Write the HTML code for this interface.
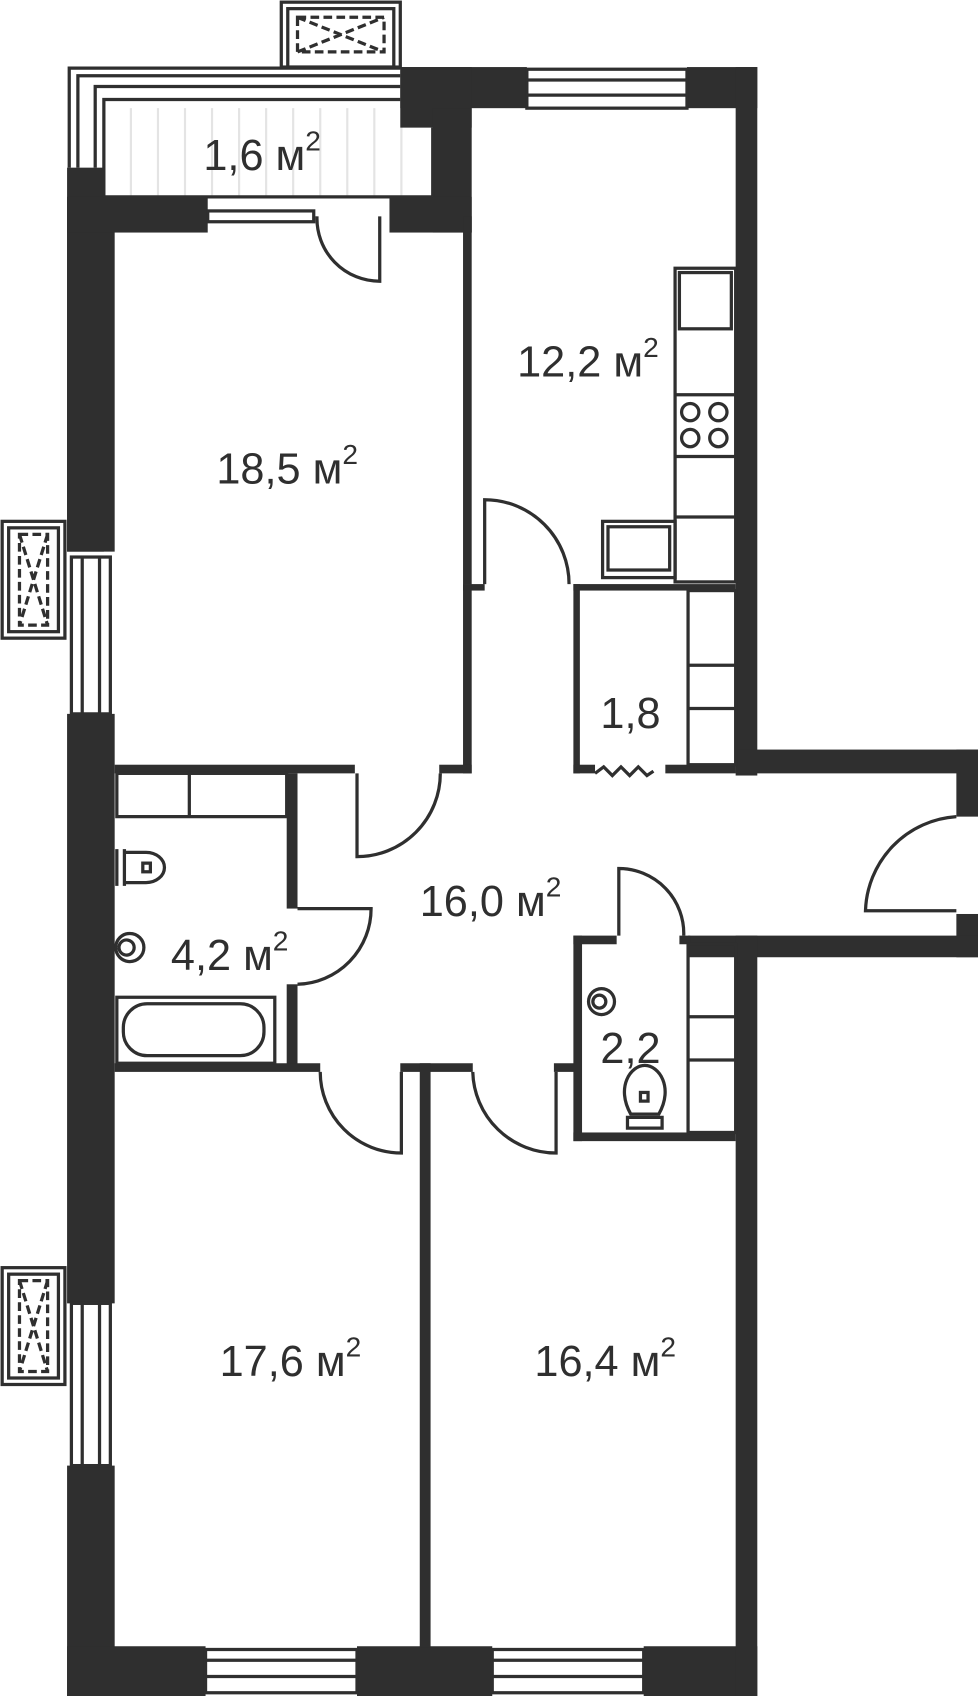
<!DOCTYPE html>
<html><head><style>html,body{margin:0;padding:0;background:#fff}svg{display:block}</style></head><body>
<svg width="978" height="1696" viewBox="0 0 904 1568" preserveAspectRatio="none" xmlns="http://www.w3.org/2000/svg">
<g stroke="#e4e4e4" stroke-width="2">
<path d="M121 100V182M146 100V182M171 100V182M196 100V182M221 100V182M246 100V182M271 100V182M296 100V182M321 100V182M346 100V182M371 100V182"/>
</g>
<g fill="#2f2f2f">
<rect x="62" y="155" width="34" height="355"/>
<rect x="62" y="660" width="44" height="545"/>
<rect x="62" y="1355" width="44" height="213"/>
<rect x="62" y="182" width="44" height="328"/>
<rect x="62" y="1522" width="128" height="46"/>
<rect x="330" y="1522" width="125" height="46"/>
<rect x="595" y="1522" width="105" height="46"/>
<rect x="370" y="62" width="117" height="38"/>
<rect x="635" y="62" width="65" height="38"/>
<rect x="370" y="62" width="66" height="56"/>
<rect x="400" y="100" width="36" height="115"/>
<rect x="680" y="62" width="20" height="655"/>
<rect x="680" y="693" width="224" height="22"/>
<rect x="884" y="693" width="20" height="62"/>
<rect x="884" y="845" width="20" height="40"/>
<rect x="636" y="865" width="268" height="20"/>
<rect x="680" y="865" width="20" height="703"/>
<rect x="62" y="182" width="130" height="33"/>
<rect x="360" y="182" width="76" height="33"/>
</g>
<g fill="none" stroke="#2f2f2f" stroke-width="3">
<path d="M64 155V63H370M72 155V70H370M88 155V80H370M96 182V92H370M400 118V182M96 182H400"/>
<rect x="260" y="2" width="110" height="60"/>
<rect x="266" y="8" width="98" height="54"/>
<path d="M275 16H355V48H275Z M275 16L355 48M275 48L355 16" stroke-dasharray="8 4"/>
<rect x="192" y="195" width="98" height="10"/>
<rect x="2" y="482" width="58" height="108"/><rect x="8" y="488" width="46" height="96"/>
<path d="M18 494H44V578H18Z M18 494L44 578M44 494L18 578" stroke-dasharray="8 4"/>
<rect x="66" y="515" width="36" height="145"/><path d="M76 515V660M92 515V660"/>
<rect x="2" y="1172" width="58" height="108"/><rect x="8" y="1178" width="46" height="96"/>
<path d="M18 1184H44V1268H18Z M18 1184L44 1268M44 1184L18 1268" stroke-dasharray="8 4"/>
<rect x="66" y="1205" width="36" height="150"/><path d="M76 1205V1355M92 1205V1355"/>
<rect x="487" y="64" width="148" height="36"/><path d="M487 74H635M487 88H635"/>
<rect x="190" y="1525" width="140" height="40"/><path d="M190 1535H330M190 1550H330"/>
<rect x="455" y="1525" width="140" height="40"/><path d="M455 1535H595M455 1550H595"/>
<path d="M293 200 A58 58 0 0 0 351 260 V200"/>
</g>
<g fill="#2f2f2f">
<rect x="428" y="200" width="8" height="340"/>
<rect x="428" y="540" width="20" height="6"/>
<rect x="428" y="540" width="8" height="175"/>
<rect x="106" y="707" width="222" height="8"/>
<rect x="406" y="707" width="30" height="8"/>
<rect x="530" y="540" width="150" height="6"/>
<rect x="530" y="540" width="6" height="175"/>
<rect x="530" y="707" width="20" height="8"/>
<rect x="615" y="707" width="65" height="8"/>
<rect x="265" y="715" width="10" height="125"/>
<rect x="265" y="910" width="10" height="80"/>
<rect x="106" y="983" width="190" height="8"/>
<rect x="370" y="983" width="67" height="8"/>
<rect x="388" y="983" width="10" height="540"/>
<rect x="512" y="983" width="20" height="8"/>
<rect x="530" y="865" width="8" height="190"/>
<rect x="530" y="1047" width="150" height="8"/>
<rect x="530" y="865" width="40" height="8"/>
<rect x="628" y="865" width="10" height="8"/>
</g>
<g fill="none" stroke="#2f2f2f" stroke-width="3">
<path d="M448 540 V462 A78 78 0 0 1 526 540"/>
<path d="M330 715 V792 A77 77 0 0 0 407 715"/>
<path d="M275 840 H343 A70 70 0 0 1 275 910"/>
<path d="M296 991 A75 75 0 0 0 371 1066 V991"/>
<path d="M437 991 A77 77 0 0 0 514 1066 V991"/>
<path d="M572 865 V803 A60 60 0 0 1 632 865"/>
<path d="M884 755 A90 90 0 0 0 800 842 H884"/>
<path d="M550 715 l8 -6 l8 8 l8 -8 l8 8 l8 -8 l8 8 l6 -4"/>
<rect x="108" y="715" width="157" height="40"/><path d="M175 715V755"/>
<rect x="636" y="546" width="44" height="161"/><path d="M636 615H680M636 655H680"/>
<rect x="636" y="873" width="44" height="174"/><path d="M636 940H680M636 980H680"/>
<rect x="624" y="248" width="56" height="290"/>
<rect x="628" y="252" width="48" height="52"/>
<path d="M624 365H680M624 422H680M624 478H680"/>
<circle cx="638" cy="381" r="8"/><circle cx="664" cy="381" r="8"/><circle cx="638" cy="405" r="8"/><circle cx="664" cy="405" r="8"/>
<rect x="557" y="482" width="67" height="52"/><rect x="562" y="487" width="57" height="40"/>
<rect x="108" y="922" width="146" height="61"/><rect x="114" y="928" width="130" height="48" rx="22"/>
<path d="M108 785 v34 M115 785 v34"/><path d="M115 788 h20 a17 14 0 0 1 0 28 h-20"/><rect x="132" y="798" width="7" height="8"/>
<circle cx="120" cy="876" r="13"/><circle cx="117" cy="876" r="7"/>
<circle cx="556" cy="926" r="12"/><circle cx="554" cy="926" r="6"/>
<path d="M580 1033 h32 v10 h-32z"/><path d="M583 1030 c-14 -25 0 -45 13 -45 c13 0 27 20 13 45z"/><rect x="592" y="1010" width="7" height="8"/>
</g>
<g fill="#2f2f2f" font-family="Liberation Sans, sans-serif" font-size="40">
<text x="188" y="157">1,6 м<tspan font-size="26" dy="-18">2</tspan></text>
<text x="478" y="348">12,2 м<tspan font-size="26" dy="-18">2</tspan></text>
<text x="200" y="447">18,5 м<tspan font-size="26" dy="-18">2</tspan></text>
<text x="555" y="673">1,8</text>
<text x="388" y="847">16,0 м<tspan font-size="26" dy="-18">2</tspan></text>
<text x="158" y="897">4,2 м<tspan font-size="26" dy="-18">2</tspan></text>
<text x="555" y="983">2,2</text>
<text x="203" y="1272">17,6 м<tspan font-size="26" dy="-18">2</tspan></text>
<text x="494" y="1272">16,4 м<tspan font-size="26" dy="-18">2</tspan></text>
</g>
</svg>
</body></html>
